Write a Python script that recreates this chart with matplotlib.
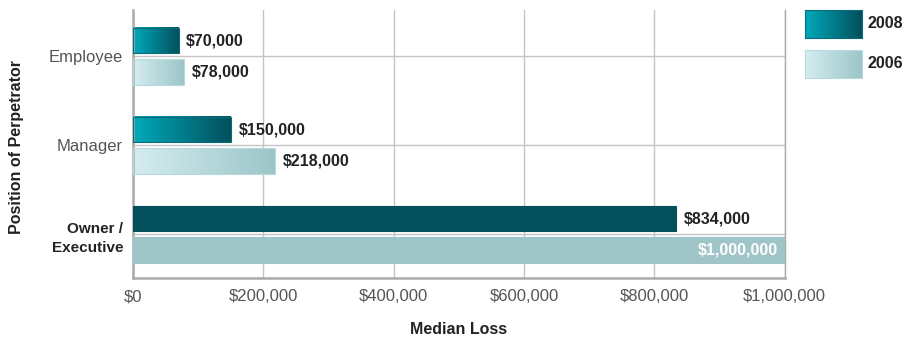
import numpy as np
import matplotlib
matplotlib.use("Agg")
import matplotlib.pyplot as plt
from matplotlib.colors import LinearSegmentedColormap

plt.rcParams['font.family'] = ['Liberation Sans', 'DejaVu Sans']

positions = ["Employee", "Manager", "Owner /\nExecutive"]
loss_2008 = [70000, 150000, 834000]
loss_2006 = [78000, 218000, 1000000]
labels_2008 = ["$70,000", "$150,000", "$834,000"]
labels_2006 = ["$78,000", "$218,000", "$1,000,000"]
xticks = [0, 200000, 400000, 600000, 800000, 1000000]
xtick_labels = ["$0", "$200,000", "$400,000", "$600,000", "$800,000", "$1,000,000"]

cmap_2008 = LinearSegmentedColormap.from_list("c08", ["#00aabc", "#03505b"])
cmap_2006 = LinearSegmentedColormap.from_list("c06", ["#d4edf0", "#9cc5c8"])
solid_2008 = "#034f5b"
solid_2006 = "#9fc5c9"
grad = np.linspace(0, 1, 256).reshape(1, -1)


def gradient_bars(ax, bars, cmap, solid, edge):
    for i, b in enumerate(bars):
        x0, y0, w, h = b.get_x(), b.get_y(), b.get_width(), b.get_height()
        if i == len(bars) - 1:
            b.set_facecolor(solid)
            b.set_edgecolor(solid)
        else:
            b.set_facecolor("none")
            b.set_edgecolor(edge)
            ax.imshow(grad, cmap=cmap, extent=[x0, x0 + w, y0 + h, y0],
                      aspect="auto", zorder=2, interpolation="bicubic")


fig = plt.figure(figsize=(9.04, 3.38), dpi=100)
ax = fig.add_axes([0.147, 0.1775, 0.721, 0.793])

y = np.arange(len(positions))
off = 0.175
h = 0.285
b08 = ax.barh(y - off, loss_2008, height=h, zorder=3, linewidth=0.8)
b06 = ax.barh(y + off, loss_2006, height=h, zorder=3, linewidth=0.8)
gradient_bars(ax, b08, cmap_2008, solid_2008, "#0b6b76")
gradient_bars(ax, b06, cmap_2006, solid_2006, "#b8dadd")

for i, (v, lab) in enumerate(zip(loss_2008, labels_2008)):
    ax.text(v + 12000, y[i] - off, lab, va="center", ha="left",
            fontsize=11.5, fontweight="bold", color="#222222", zorder=4)
for i, (v, lab) in enumerate(zip(loss_2006, labels_2006)):
    if v >= 1000000:
        ax.text(v - 11000, y[i] + off, lab, va="center", ha="right",
                fontsize=11.5, fontweight="bold", color="white", zorder=4)
    else:
        ax.text(v + 12000, y[i] + off, lab, va="center", ha="left",
                fontsize=11.5, fontweight="bold", color="#222222", zorder=4)

ax.set_xlim(0, 1000000)
ax.set_ylim(2.49, -0.52)
ax.set_xticks(xticks)
ax.set_xticklabels(xtick_labels, fontsize=12, color="#555555")
ax.set_yticks(y)
ax.set_yticklabels(positions, fontsize=12, color="#555555")
for t in ax.get_yticklabels()[-1:]:
    t.set_fontweight("bold")
    t.set_fontsize(11)
    t.set_color("#222222")
    t.set_multialignment("right")
    t.set_linespacing(1.45)
ax.tick_params(length=0, pad=8)
ax.tick_params(axis="y", pad=7)

ax.grid(True, color="#c4c4c4", linewidth=1.0, zorder=0)
ax.set_axisbelow(True)
for s in ["left", "bottom", "right"]:
    ax.spines[s].set_color("#aaaaaa")
    ax.spines[s].set_linewidth(1.8)
ax.spines["right"].set_linewidth(1.0)
ax.spines["top"].set_visible(False)

ax.set_xlabel("Median Loss", fontsize=11.5, fontweight="bold", color="#222222", labelpad=13)
fig.text(0.018, 1 - 147 / 338, "Position of Perpetrator", rotation=90, ha="center", va="center",
         fontsize=11.5, fontweight="bold", color="#222222")

# legend
for j, (cmap, yr) in enumerate([(cmap_2008, "2008"), (cmap_2006, "2006")]):
    top = 10 + j * 40
    lx0, lx1 = 805 / 904, 862 / 904
    ly1 = 1 - top / 338
    ly0 = 1 - (top + 28) / 338
    lax = fig.add_axes([lx0, ly0, lx1 - lx0, ly1 - ly0])
    lax.imshow(grad, cmap=cmap, aspect="auto", extent=[0, 1, 0, 1], interpolation="bicubic")
    lax.set_xticks([])
    lax.set_yticks([])
    for s in lax.spines.values():
        s.set_color("#0b6b76" if j == 0 else "#b8dadd")
        s.set_linewidth(0.8)
    fig.text(868 / 904, 1 - (top + 14) / 338, yr, ha="left", va="center",
             fontsize=11.5, fontweight="bold", color="#222222")

fig.savefig("out.png", dpi=100)
